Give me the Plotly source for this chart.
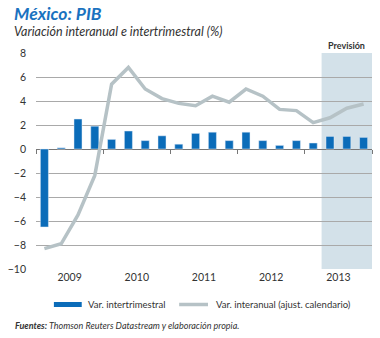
import plotly.graph_objects as go

quarters = [f"{y}T{q}" for y in range(2009, 2014) for q in range(1, 5)]
years = ["2009", "2010", "2011", "2012", "2013"]
var_intertrimestral = [-6.5, 0.1, 2.5, 1.9, 0.8, 1.5, 0.7, 1.1, 0.4, 1.3,
                       1.4, 0.7, 1.4, 0.7, 0.3, 0.7, 0.5, 1.05, 1.05, 0.97]
var_interanual = [-8.3, -7.9, -5.5, -2.2, 5.4, 6.8, 5.0, 4.2, 3.8, 3.6,
                  4.4, 3.9, 5.0, 4.4, 3.3, 3.2, 2.2, 2.6, 3.4, 3.75]
forecast_start = 17  # index of first forecast quarter

x = list(range(len(quarters)))
year_centers = [i * 4 + 1.5 for i in range(len(years))]
year_bounds = [i * 4 - 0.5 for i in range(len(years) + 1)]

FONT = "Lato, 'Open Sans', sans-serif"
BLUE = "#0b6cb9"
GRAY = "#b6c2c6"

fig = go.Figure()
fig.add_trace(go.Bar(x=x, y=var_intertrimestral, marker_color=BLUE,
                     name="Var. intertrimestral", showlegend=False))
fig.add_trace(go.Scatter(x=x, y=var_interanual, mode="lines",
                         line=dict(color=GRAY, width=3.5),
                         name="Var. interanual (ajust. calendario)", showlegend=False))
# invisible trace on the tick-axis at zero
fig.add_trace(go.Scatter(x=[x[0]], y=[0], xaxis="x2", yaxis="y", mode="markers",
                         marker=dict(opacity=0), showlegend=False, hoverinfo="skip"))

fig.add_shape(type="rect", xref="x", yref="paper",
              x0=forecast_start - 0.5, x1=len(x) - 0.5, y0=0, y1=1,
              fillcolor="#d3e1e9", line_width=0, layer="between")

xr = [-0.5, len(x) - 0.5]
fig.update_layout(
    width=380, height=338,
    margin=dict(l=34, r=8, t=53, b=69),
    paper_bgcolor="white", plot_bgcolor="rgba(0,0,0,0)",
    bargap=0.52,
    font=dict(family=FONT, color="#333333", size=10),
    xaxis=dict(range=xr, tickvals=year_centers, ticktext=years, ticks="",
               showgrid=False, zeroline=False, showline=False,
               tickfont=dict(size=10.5, color="#333333")),
    xaxis2=dict(range=xr, overlaying="x", anchor="free", position=10 / 18,
                tickvals=year_bounds, showticklabels=False, ticks="outside",
                ticklen=4, tickcolor="#777777", showline=False, showgrid=False,
                zeroline=False),
    yaxis=dict(range=[-10, 8], dtick=2, showgrid=True, gridcolor="#a9a9a9",
               gridwidth=1, zeroline=True, zerolinecolor="#777777", zerolinewidth=1.2,
               ticks="", ticklabelstandoff=9,
               tickfont=dict(size=10.5, color="#333333")),
    showlegend=False,
)

ann = []
ann.append(dict(text="<b><i>México: PIB</i></b>", xref="paper", yref="paper",
                x=-24 / 338, y=(269 - 13) / 216, xanchor="left", yanchor="middle",
                showarrow=False, font=dict(size=17.5, color="#1a72c0", family=FONT)))
ann.append(dict(text="<i>Variación interanual e intertrimestral (%)</i>", xref="paper",
                yref="paper", x=-24 / 338, y=(269 - 31) / 216, xanchor="left",
                yanchor="middle", showarrow=False,
                font=dict(size=12.5, color="#333333", family=FONT)))
ann.append(dict(text="<b>Previsión</b>", xref="x", yref="paper",
                x=(forecast_start - 0.5 + len(x) - 0.5) / 2, y=(269 - 46) / 216,
                xanchor="center", yanchor="middle", showarrow=False,
                font=dict(size=9, color="#333333", family=FONT)))
ann.append(dict(text="Var. intertrimestral", xref="paper", yref="paper",
                x=(84 - 34) / 338, y=(269 - 304) / 216, xanchor="left", yanchor="middle",
                showarrow=False, font=dict(size=9.5, color="#333333", family=FONT)))
ann.append(dict(text="Var. interanual (ajust. calendario)", xref="paper", yref="paper",
                x=(213 - 34) / 338, y=(269 - 304) / 216, xanchor="left", yanchor="middle",
                showarrow=False, font=dict(size=9.5, color="#333333", family=FONT)))
ann.append(dict(text="<b><i>Fuentes:</i></b><i> Thomson Reuters Datastream y elaboración propia.</i>",
                xref="paper", yref="paper", x=-23 / 338, y=(269 - 325) / 216,
                xanchor="left", yanchor="middle", showarrow=False,
                font=dict(size=9, color="#333333", family=FONT)))
fig.update_layout(annotations=ann)

# legend keys
fig.add_shape(type="rect", xref="paper", yref="paper",
              x0=(52 - 34) / 338, x1=(80 - 34) / 338,
              y0=(269 - 307) / 216, y1=(269 - 302) / 216,
              fillcolor=BLUE, line_width=0)
fig.add_shape(type="line", xref="paper", yref="paper",
              x0=(178 - 34) / 338, x1=(207 - 34) / 338,
              y0=(269 - 304.5) / 216, y1=(269 - 304.5) / 216,
              line=dict(color=GRAY, width=3.5))

fig.write_html("out.html")
